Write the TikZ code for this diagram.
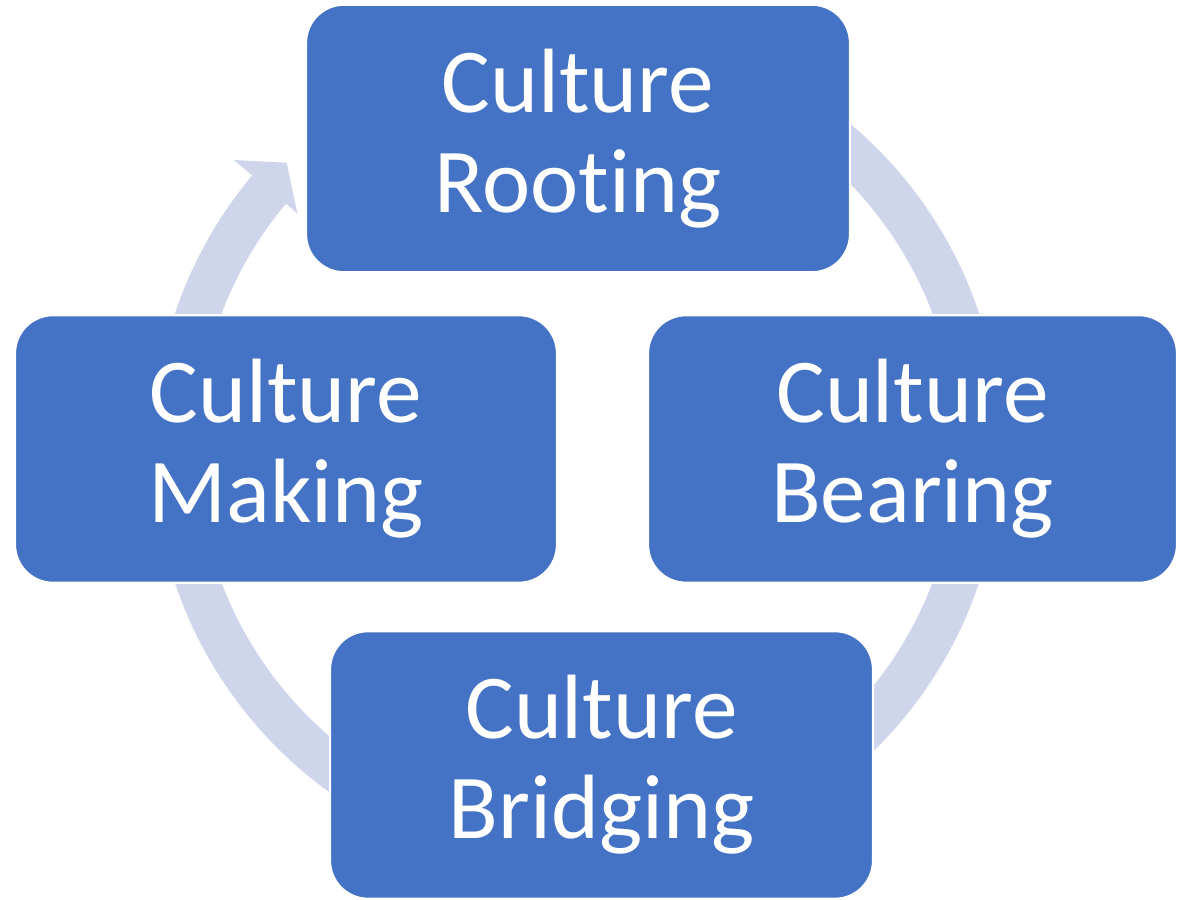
\documentclass[tikz,border=0pt]{standalone}
\usepackage{fontspec}
\setmainfont{Carlito}[Ligatures=NoCommon]
\definecolor{stageblue}{HTML}{4472C4}
\definecolor{ringblue}{HTML}{CFD5EA}
\tikzset{
  stage/.style={
    draw=white,
    line width=1.2pt,
    fill=stageblue,
    rounded corners=0.76cm,
    minimum height=5.35cm,
    inner sep=0pt,
    text=white,
    font=\fontsize{52}{57}\selectfont,
    align=center
  },
  ring/.style={draw=ringblue, line width=0.88cm},
}

\begin{document}
\begin{tikzpicture}[x=0.02cm,y=0.02cm]
  \useasboundingbox (0,0) rectangle (1178,900);
  \coordinate (hub) at (577,452);
  % the cycle ring and its head sit behind the stages
  \draw[ring] ([shift={(90:402)}]hub) arc[start angle=90, end angle=-220, radius=402];
  \fill[ringblue] ([shift={(140:448)}]hub) -- ([shift={(135.5:407)}]hub)
    -- ([shift={(140:365)}]hub) -- cycle;
  % stages: name/x/y/width/text
  \foreach \n/\x/\y/\w/\t in {rooting/578/761.5/10.88/Rooting,
                              making/286/451/10.84/Making,
                              bearing/912.5/451/10.58/Bearing,
                              bridging/601.5/135/10.86/Bridging} {
    \node[stage, minimum width=\w cm] (\n) at (\x,\y) {Culture\\\t};
  }
\end{tikzpicture}
\end{document}
